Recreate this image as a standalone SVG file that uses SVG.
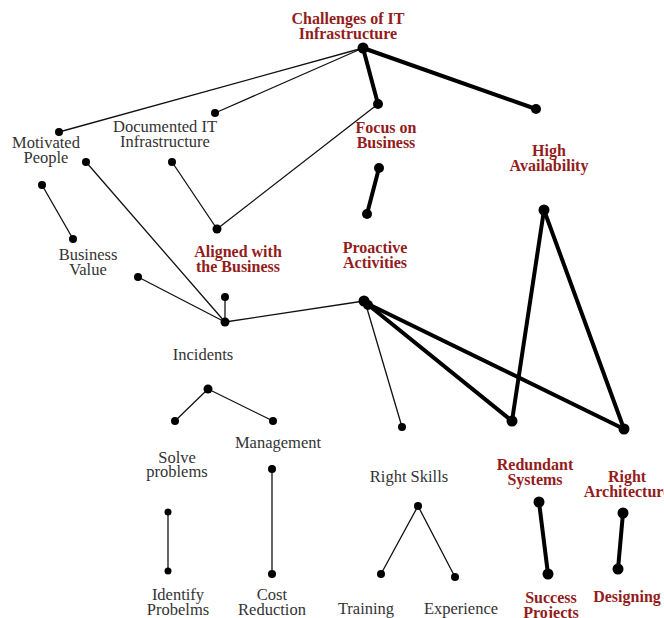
<svg xmlns="http://www.w3.org/2000/svg" width="664" height="618" viewBox="0 0 664 618">
<style>
.lbl{font-family:"Liberation Serif","Times New Roman",serif;font-size:16.5px;fill:#333;text-anchor:middle}
.hl{font-family:"Liberation Serif","Times New Roman",serif;font-size:16px;font-weight:bold;fill:#931c1c;text-anchor:middle}
.thin{stroke:#111;stroke-width:1.3;fill:none;stroke-linecap:round}
.thick{stroke:#000;stroke-width:4;fill:none;stroke-linecap:round}
.d{fill:#000}
</style>
<rect width="664" height="618" fill="#fff"/>
<g id="connectors">
  <line class="thin" x1="363" y1="48" x2="59" y2="132"/>
  <line class="thin" x1="363" y1="48" x2="215" y2="113"/>
  <line class="thin" x1="378" y1="104" x2="217" y2="229"/>
  <line class="thin" x1="172" y1="162" x2="217" y2="229"/>
  <line class="thin" x1="42" y1="185" x2="73" y2="239"/>
  <line class="thin" x1="86" y1="162" x2="225" y2="322"/>
  <line class="thin" x1="138" y1="277" x2="225" y2="322"/>
  <line class="thin" x1="225" y1="297" x2="225" y2="322"/>
  <line class="thin" x1="225" y1="322" x2="364" y2="301"/>
  <line class="thin" x1="366" y1="305" x2="402" y2="427"/>
  <line class="thin" x1="208" y1="389" x2="175" y2="421"/>
  <line class="thin" x1="208" y1="389" x2="273" y2="421"/>
  <line class="thin" x1="168" y1="512" x2="168" y2="571"/>
  <line class="thin" x1="272" y1="469" x2="272" y2="574"/>
  <line class="thin" x1="418" y1="506" x2="381" y2="574"/>
  <line class="thin" x1="418" y1="506" x2="455" y2="577"/>
  <line class="thick" x1="363" y1="48" x2="378" y2="104"/>
  <line class="thick" x1="363" y1="48" x2="536" y2="109"/>
  <line class="thick" x1="379" y1="168" x2="367" y2="214"/>
  <line class="thick" x1="544" y1="210" x2="512" y2="421"/>
  <line class="thick" x1="544" y1="210" x2="624" y2="429"/>
  <line class="thick" x1="366" y1="303" x2="512" y2="421"/>
  <line class="thick" x1="366" y1="303" x2="624" y2="429"/>
  <line class="thick" x1="539" y1="502" x2="548" y2="574"/>
  <line class="thick" x1="623" y1="513" x2="618" y2="569"/>
  <circle class="d" cx="363" cy="48" r="5.5"/>
  <circle class="d" cx="378" cy="104" r="5"/>
  <circle class="d" cx="536" cy="109" r="5"/>
  <circle class="d" cx="215" cy="113" r="4"/>
  <circle class="d" cx="59" cy="132" r="4"/>
  <circle class="d" cx="86" cy="162" r="4"/>
  <circle class="d" cx="172" cy="162" r="4"/>
  <circle class="d" cx="42" cy="185" r="4"/>
  <circle class="d" cx="73" cy="239" r="4"/>
  <circle class="d" cx="217" cy="229" r="4.5"/>
  <circle class="d" cx="138" cy="277" r="4"/>
  <circle class="d" cx="225" cy="297" r="4"/>
  <circle class="d" cx="225" cy="322" r="4.5"/>
  <circle class="d" cx="379" cy="168" r="5"/>
  <circle class="d" cx="367" cy="214" r="5"/>
  <circle class="d" cx="544" cy="210" r="5.5"/>
  <circle class="d" cx="364" cy="301" r="5.5"/>
  <circle class="d" cx="368" cy="305" r="5"/>
  <circle class="d" cx="402" cy="427" r="4"/>
  <circle class="d" cx="512" cy="421" r="5.5"/>
  <circle class="d" cx="624" cy="429" r="5.5"/>
  <circle class="d" cx="208" cy="389" r="4.5"/>
  <circle class="d" cx="175" cy="421" r="4"/>
  <circle class="d" cx="273" cy="421" r="4"/>
  <circle class="d" cx="168" cy="512" r="3.5"/>
  <circle class="d" cx="168" cy="571" r="3.5"/>
  <circle class="d" cx="272" cy="469" r="4"/>
  <circle class="d" cx="272" cy="574" r="4"/>
  <circle class="d" cx="418" cy="506" r="4"/>
  <circle class="d" cx="381" cy="574" r="4"/>
  <circle class="d" cx="455" cy="577" r="4"/>
  <circle class="d" cx="539" cy="502" r="5.5"/>
  <circle class="d" cx="548" cy="574" r="5.5"/>
  <circle class="d" cx="623" cy="513" r="5.5"/>
  <circle class="d" cx="618" cy="569" r="5.5"/>
</g>
<g id="challenges"><text class="hl" x="348" y="24">Challenges of IT</text><text class="hl" x="348" y="39">Infrastructure</text></g>
<g id="focus"><text class="hl" x="386" y="133">Focus on</text><text class="hl" x="386" y="148">Business</text></g>
<g id="high-availability"><text class="hl" x="549" y="156">High</text><text class="hl" x="549" y="171">Availability</text></g>
<g id="proactive"><text class="hl" x="375" y="253">Proactive</text><text class="hl" x="375" y="268">Activities</text></g>
<g id="aligned"><text class="hl" x="238" y="257">Aligned with</text><text class="hl" x="238" y="272">the Business</text></g>
<g id="motivated"><text class="lbl" x="46" y="148">Motivated</text><text class="lbl" x="46" y="163">People</text></g>
<g id="documented"><text class="lbl" x="165" y="132">Documented IT</text><text class="lbl" x="165" y="147">Infrastructure</text></g>
<g id="business-value"><text class="lbl" x="88" y="260">Business</text><text class="lbl" x="88" y="275">Value</text></g>
<g id="incidents"><text class="lbl" x="203" y="360">Incidents</text></g>
<g id="solve"><text class="lbl" x="177" y="463">Solve</text><text class="lbl" x="177" y="477">problems</text></g>
<g id="management"><text class="lbl" x="278" y="448">Management</text></g>
<g id="identify"><text class="lbl" x="178" y="600">Identify</text><text class="lbl" x="178" y="615">Probelms</text></g>
<g id="cost"><text class="lbl" x="272" y="600">Cost</text><text class="lbl" x="272" y="615">Reduction</text></g>
<g id="right-skills"><text class="lbl" x="409" y="482">Right Skills</text></g>
<g id="training"><text class="lbl" x="366" y="614">Training</text></g>
<g id="experience"><text class="lbl" x="461" y="614">Experience</text></g>
<g id="redundant"><text class="hl" x="535" y="470">Redundant</text><text class="hl" x="535" y="485">Systems</text></g>
<g id="right-architecture"><text class="hl" x="627" y="482">Right</text><text class="hl" x="627" y="497">Architecture</text></g>
<g id="success"><text class="hl" x="551" y="603">Success</text><text class="hl" x="551" y="618">Projects</text></g>
<g id="designing"><text class="hl" x="627" y="602">Designing</text></g>
</svg>
